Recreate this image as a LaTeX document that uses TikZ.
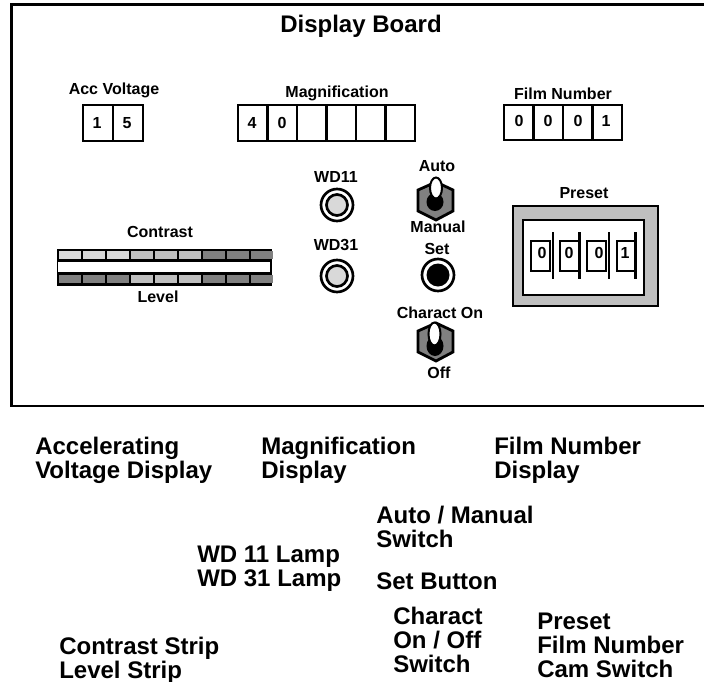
\documentclass[tikz,border=0pt]{standalone}
\usepackage{fontspec}
\setmainfont{Liberation Sans}
\usetikzlibrary{positioning,shapes}

\begin{document}
\begin{tikzpicture}[
  x=0.75pt, y=-0.75pt,
  font=\bfseries,
  tiny/.style={inner sep=0pt, font=\bfseries\fontsize{12}{14}\selectfont},
  big/.style={inner sep=0pt, anchor=west, align=left, font=\bfseries\fontsize{18}{18.2}\selectfont},
  panel/.style={draw=black, line width=2.1pt, fill=white},
  thin panel/.style={draw=black, line width=1.5pt, fill=white},
  lampring/.style={draw=black, line width=2pt, fill=white},
  lite/.style={rectangle, inner sep=0pt, minimum width=16pt, minimum height=6pt, fill=black!15},
  mid/.style={lite, fill=black!25},
  dark/.style={lite, fill=black!50}
]
\useasboundingbox (0,0) rectangle (704,682);

% ─── Board ──────────────────────────────────────────
\draw[line width=2.1pt] (704,4.5) -- (11.5,4.5) -- (11.5,406) -- (704,406);
\node[big, anchor=center] (title) at (361,26) {Display Board};

% ─── Read-outs ──────────────────────────────────────
\node[tiny] (acc) at (114,90) {Acc Voltage};
\draw[panel] (83,105) rectangle (143,141);
\draw[panel] (113,105) -- (113,141);
\node[tiny] (acc1) at (97,123) {1};
\node[tiny] (acc2) at (127,123) {5};

\node[tiny] (mag) at (337,93) {Magnification};
\draw[panel] (238,105) rectangle (415,141);
\draw[panel] (267.5,105) -- (267.5,141);
\draw[panel] (297,105) -- (297,141);
\draw[panel] (326.5,105) -- (326.5,141);
\draw[panel] (356,105) -- (356,141);
\draw[panel] (385.5,105) -- (385.5,141);
\node[tiny] (mag1) at (252,123) {4};
\node[tiny] (mag2) at (282,123) {0};

\node[tiny] (film) at (563,94) {Film Number};
\draw[panel] (504,105) rectangle (622,140);
\draw[panel] (533.5,105) -- (533.5,140);
\draw[panel] (563,105) -- (563,140);
\draw[panel] (592.5,105) -- (592.5,140);
\node[tiny] (film1) at (519,121) {0};
\node[tiny] (film2) at (548,121) {0};
\node[tiny] (film3) at (578,121) {0};
\node[tiny] (film4) at (606,121) {1};

% ─── Strips ─────────────────────────────────────────
\node[tiny] (contrast) at (160,232) {Contrast};
\node[tiny] (level) at (158,297) {Level};
\fill[black] (56.5,248.5) rectangle (271.5,285.5);
\fill[white] (58,262) rectangle (270,272);
\foreach \i/\top/\bot in {0/lite/dark, 1/lite/dark, 2/lite/dark, 3/mid/mid, 4/mid/mid, 5/mid/mid, 6/dark/dark, 7/dark/dark, 8/dark/dark} {
  \node[\top] (top\i) at (70+24*\i,255) {};
  \node[\bot] (bot\i) at (70+24*\i,279) {};
}

% ─── Lamps ──────────────────────────────────────────
\node[tiny] (wd11) at (336,177) {WD11};
\draw[lampring] (337,205) circle [radius=16];
\draw[lampring, fill=black!15] (337,205) circle [radius=10.5];

\node[tiny] (wd31) at (336,245) {WD31};
\draw[lampring] (337,276) circle [radius=16];
\draw[lampring, fill=black!15] (337,276) circle [radius=10.5];

\node[tiny] (set) at (437,249) {Set};
\draw[lampring] (438,275) circle [radius=16];
\fill[black] (438,275) circle [radius=11.5];

% ─── Toggle switches ────────────────────────────────
\node[tiny] (auto) at (437,166) {Auto};
\node[tiny] (manual) at (438,227) {Manual};
\draw[panel, fill=black!50] (436,182) -- (453,190) -- (453,211) -- (436,220) -- (418,211) -- (418,190) -- cycle;
\fill[black] (435,202) ellipse [x radius=8.5, y radius=9];
\draw[thin panel] (436,188) ellipse [x radius=6, y radius=10.5];

\node[tiny] (charact) at (440,313) {Charact On};
\node[tiny] (off) at (439,373) {Off};
\draw[panel, fill=black!50] (436,323) -- (453,331) -- (453,352) -- (436,361) -- (418,352) -- (418,331) -- cycle;
\fill[black] (435,346) ellipse [x radius=8.5, y radius=10];
\draw[thin panel] (434.5,334) ellipse [x radius=6, y radius=11.5];

% ─── Preset cam ─────────────────────────────────────
\node[tiny] (preset) at (584,193) {Preset};
\draw[panel, fill=black!25] (513,206) rectangle (658,306);
\draw[panel] (523,220) rectangle (644,295);
\draw[panel] (531,241) rectangle (550,271);
\draw[panel] (560,241) rectangle (579,271);
\draw[panel] (587,241) rectangle (606,271);
\draw[panel] (617,241) rectangle (635,271);
\draw[panel] (553,232) -- (553,279);
\draw[panel] (579.5,232) -- (579.5,279);
\draw[panel] (609,232) -- (609,279);
\draw[panel] (635.5,232) -- (635.5,279);
\node[tiny] (cam1) at (542,253) {0};
\node[tiny] (cam2) at (569,253) {0};
\node[tiny] (cam3) at (599,253) {0};
\node[tiny] (cam4) at (625,253) {1};

% ─── Key ────────────────────────────────────────────
\node[big] (keyacc) at (35,460.5) {Accelerating\\Voltage Display};
\node[big] (keymag) at (261,460.5) {Magnification\\Display};
\node[big] (keyfilm) at (494,460.5) {Film Number\\Display};
\node[big] (keyauto) at (376,527) {Auto / Manual\\Switch};
\node[big] (keywd) at (197,569) {WD 11 Lamp\\WD 31 Lamp};
\node[big] (keyset) at (376,581) {Set Button};
\node[big] (keychar) at (393,640) {Charact\\On / Off\\Switch};
\node[big] (keycam) at (537,645.5) {Preset\\Film Number\\Cam Switch};
\node[big] (keystrip) at (59,660) {Contrast Strip\\Level Strip};

\end{tikzpicture}
\end{document}
